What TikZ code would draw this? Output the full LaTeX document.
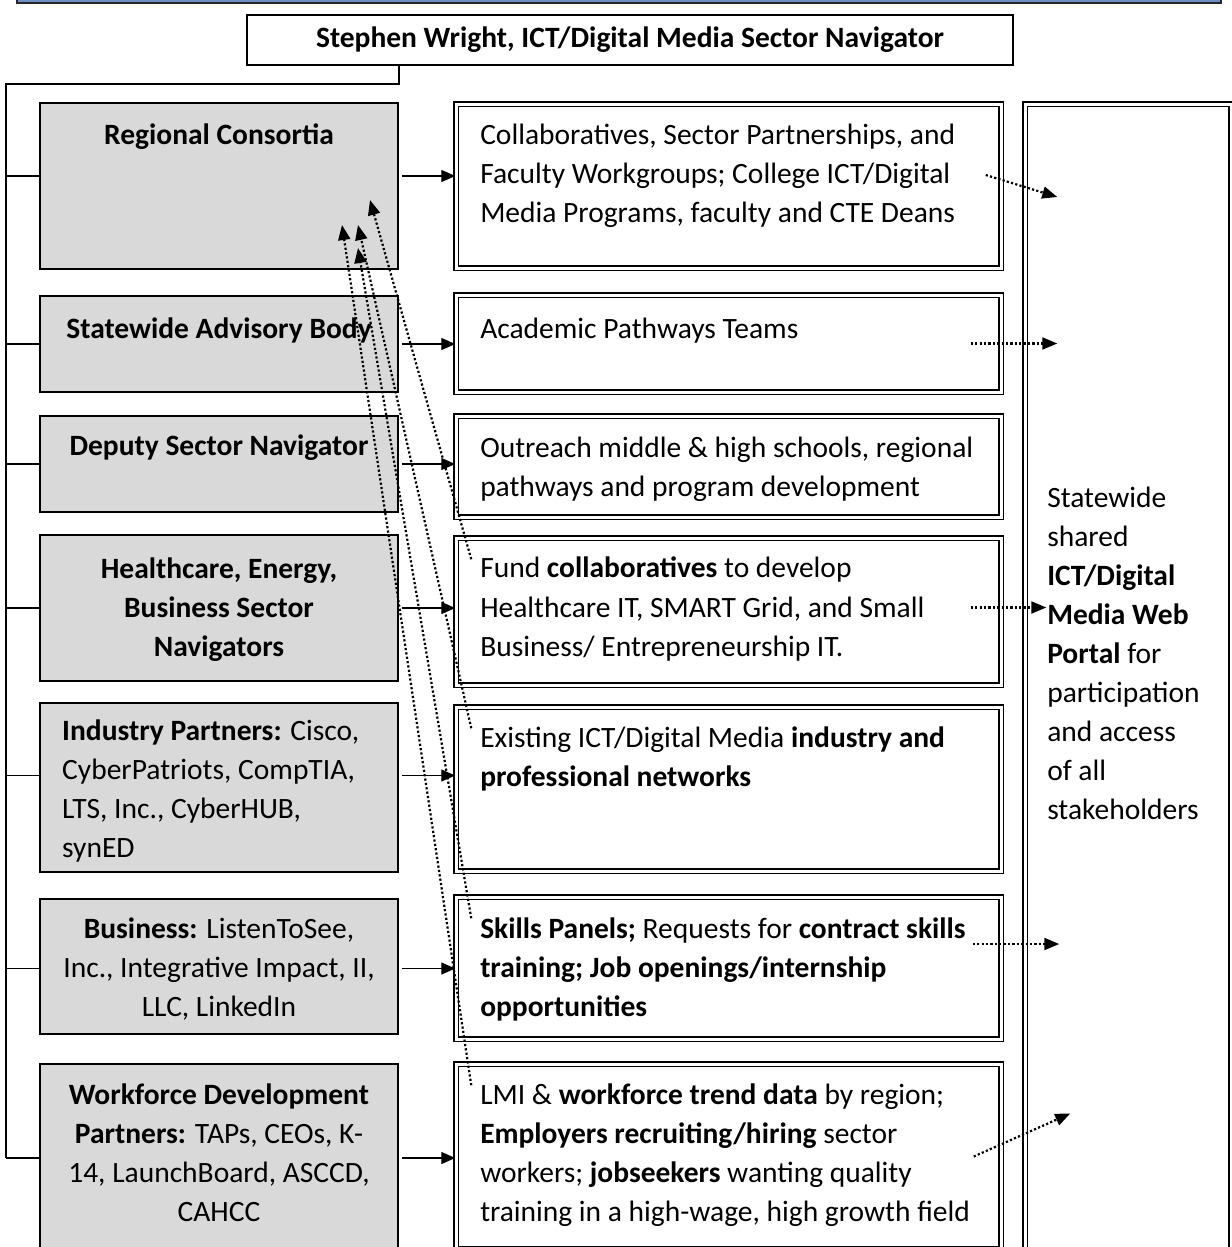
\documentclass[tikz,border=0pt]{standalone}
\usepackage{fontspec}
\setmainfont{Carlito}
\usetikzlibrary{arrows.meta,calc,positioning}
\definecolor{boxgray}{HTML}{D9D9D9}
\definecolor{bandblue}{HTML}{6F8FC8}

\begin{document}
\begin{tikzpicture}[x=1pt,y=-1pt,
    font=\fontsize{29.5}{39}\selectfont,
    lbox/.style={draw,line width=1.6pt,fill=boxgray,minimum width=358pt,inner sep=0pt},
    mbox/.style={draw,line width=1.5pt,double,double distance=3pt,minimum width=545pt,inner sep=0pt},
    txt/.style={inner sep=0pt,outer sep=0pt},
    btxt/.style={txt,align=center,font=\fontsize{29.5}{39}\selectfont\bfseries},
    link/.style={line width=1.4pt},
    tip/.style={-{Triangle[length=14pt,width=12pt]}},
    dots/.style={line width=2.2pt,dash pattern=on 2.2pt off 2.2pt,-{Triangle[length=15pt,width=12pt]}}]

  \useasboundingbox (0,0) rectangle (1231,1247);

  \fill[bandblue,draw=black!85,line width=1.5pt] (17,-10) rectangle (1221,3);

  \node[draw,line width=1.5pt,minimum width=766pt,minimum height=50pt,
        font=\fontsize{29.5}{39}\selectfont\bfseries] (nav) at (630,40)
        {Stephen Wright, ICT/Digital Media Sector Navigator};

  % rows: left box, middle box, top/bottom of each
  \foreach \l/\m/\t/\b/\u/\v in {rc/cs/103/269/101/271, sab/apt/296/392/292/395,
      dsn/out/416/512/413/520, hen/fund/535/681/535/688, ip/net/703/872/704/874,
      bus/sk/899/1034/894/1042, wdp/lmi/1064/1252/1061/1252} {
    \node[lbox,minimum height={\b-\t}] (\l) at (219,{(\t+\b)/2}) {};
    \node[mbox,minimum height={\v-\u-6}] (\m) at (728.5,{(\u+\v)/2}) {};
  }
  \node[mbox,minimum width=206pt,minimum height=1146pt] (portal) at (1128,677) {};

  \coordinate (trunk) at (6,84);
  \draw[link] (nav.south -| rc.east) |- (trunk) -- (trunk |- wdp.west);

  \foreach \l/\m/\s in {rc/cs/10,sab/apt/0,dsn/out/0,hen/fund/0,ip/net/12,bus/sk/-2,wdp/lmi/0} {
    \draw[link] ([yshift=\s pt]\l.west -| trunk) -- ([yshift=\s pt]\l.west);
    \draw[link,tip] ([xshift=3pt,yshift=\s pt]\l.east) -- ([yshift=\s pt]\l.east -| \m.west);
  }

  % left texts
  \node[btxt,below=22pt of rc.north] (rct) {Regional Consortia};
  \node[btxt,below=23pt of sab.north] (sabt) {Statewide Advisory Body};
  \node[btxt,below=20pt of dsn.north] (dsnt) {Deputy Sector Navigator};
  \node[btxt,below=24pt of hen.north] (hent) {Healthcare, Energy,\\Business Sector\\Navigators};
  \node[txt,align=left,below right=18pt and 23pt of ip.north west] (ipt)
    {\textbf{Industry Partners:} Cisco,\\CyberPatriots, CompTIA,\\LTS, Inc., CyberHUB,\\synED};
  \node[txt,align=center,below=20pt of bus.north] (bust)
    {\textbf{Business:} ListenToSee,\\Inc., Integrative Impact, II,\\LLC, LinkedIn};
  \node[txt,align=center,below=21pt of wdp.north] (wdpt)
    {\textbf{Workforce Development}\\\textbf{Partners:} TAPs, CEOs, K-\\14, LaunchBoard, ASCCD,\\CAHCC};

  % middle texts
  \node[txt,align=left,below right=21pt and 25pt of cs.north west] (cst)
    {Collaboratives, Sector Partnerships, and\\Faculty Workgroups; College ICT/Digital\\Media Programs, faculty and CTE Deans};
  \node[txt,align=left,below right=24pt and 25pt of apt.north west] (aptt)
    {Academic Pathways Teams};
  \node[txt,align=left,below right=22pt and 25pt of out.north west] (outt)
    {Outreach middle \& high schools, regional\\pathways and program development};
  \node[txt,align=left,below right=20pt and 25pt of fund.north west] (fundt)
    {Fund \textbf{collaboratives} to develop\\Healthcare IT, SMART Grid, and Small\\Business/ Entrepreneurship IT.};
  \node[txt,align=left,below right=21pt and 25pt of net.north west] (nett)
    {Existing ICT/Digital Media \textbf{industry and}\\\textbf{professional networks}};
  \node[txt,align=left,below right=22pt and 25pt of sk.north west] (skt)
    {\textbf{Skills Panels;} Requests for \textbf{contract skills}\\\textbf{training; Job openings/internship}\\\textbf{opportunities}};
  \node[txt,align=left,below right=21pt and 25pt of lmi.north west] (lmit)
    {LMI \& \textbf{workforce trend data} by region;\\\textbf{Employers recruiting/hiring} sector\\workers; \textbf{jobseekers} wanting quality\\training in a high-wage, high growth field};

  \node[txt,align=left,below right=384pt and 23pt of portal.north west] (portalt)
    {Statewide\\shared\\\textbf{ICT/Digital}\\\textbf{Media Web}\\\textbf{Portal} for\\participation\\and access\\of all\\stakeholders};

  % dotted links back to the consortia
  \coordinate (h1) at (370,200);
  \coordinate (h2) at (358,225);
  \coordinate (h3) at (358,248);
  \coordinate (h4) at (342,225);
  \foreach \m/\h in {fund/h1,net/h2,sk/h3,lmi/h4}
    \draw[dots] ($(\m.north west)+(16,22)$) -- (\h);

  % dotted links to the portal
  \foreach \m/\a/\b/\c/\d in {cs/-16/-11/33/11, apt/-31/0/33/0, fund/-31/-4/22/-4,
      sk/-29/-24/35/-24, lmi/-28/0/46/-43}
    \draw[dots] ($(\m.east)+(\a,\b)$) -- ($(\m.east -| portal.west)+(\c,\d)$);

\end{tikzpicture}
\end{document}
